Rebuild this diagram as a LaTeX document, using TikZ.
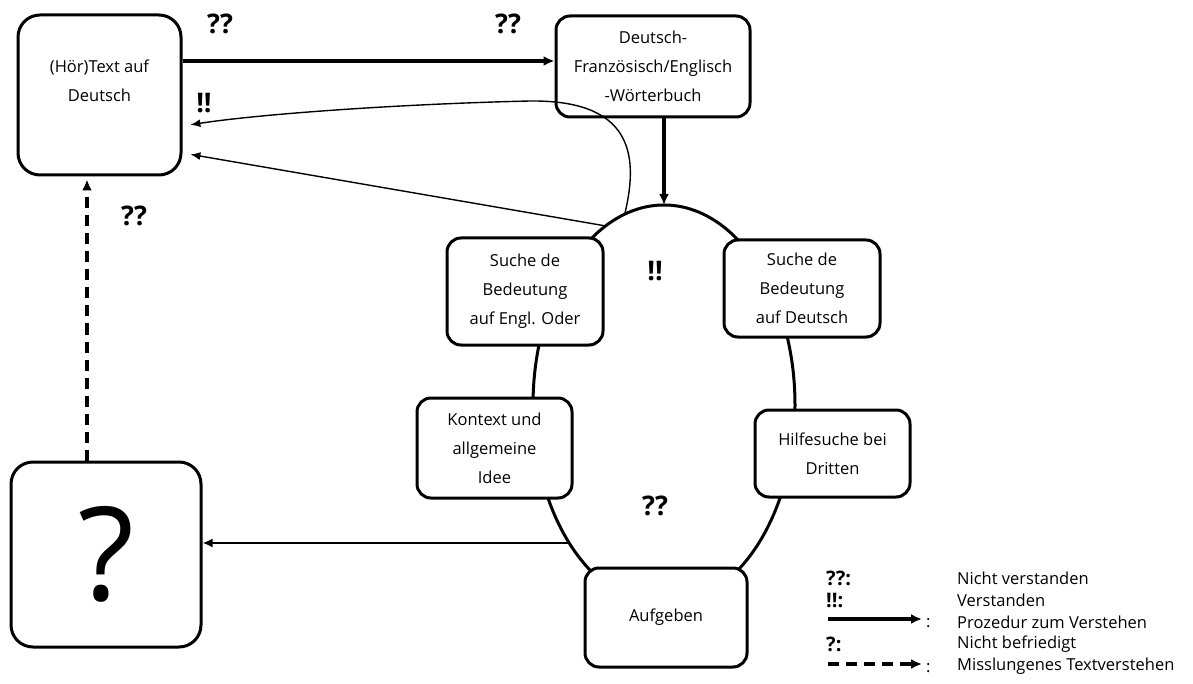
\documentclass[tikz,border=0pt]{standalone}
\usepackage{fontspec}
\setmainfont{Open Sans}
\usetikzlibrary{arrows.meta,calc}
\tikzset{
  box/.style={draw, line width=3pt, rounded corners=14pt, fill=white, inner sep=0pt, align=center,
    font=\fontsize{16.5}{29}\selectfont},
  bigbox/.style={box, rounded corners=22pt},
  lbl/.style={font=\fontsize{27}{27}\selectfont\bfseries, inner sep=0pt},
  leglbl/.style={font=\fontsize{20}{20}\selectfont\bfseries, inner sep=0pt, anchor=west},
  legtxt/.style={font=\fontsize{16.5}{20}\selectfont, inner sep=0pt, anchor=west},
  mainarr/.style={line width=3.2pt, -{Latex[length=11pt,width=10pt]}},
  medarr/.style={line width=2.6pt, -{Latex[length=10pt,width=9pt]}},
  thinarr/.style={line width=1.4pt, -{Latex[length=10pt,width=8pt]}},
  dasharr/.style={line width=3.4pt, dash pattern=on 11pt off 7pt, -{Latex[length=11pt,width=10pt]}},
  ring/.style={line width=3pt}
}
\begin{document}
\begin{tikzpicture}[x=1pt,y=-1pt]
\useasboundingbox (0,0) rectangle (1193,684);
% cycle
\draw[ring] (664,405) ellipse [x radius=131, y radius=200];
\coordinate (top) at (664,205);
\coordinate (lft) at (569,543);
\coordinate (c1) at (606,226);
\coordinate (c2) at (625,213);
% boxes
\node[bigbox, minimum width=163pt, minimum height=160pt] (A) at (99.5,95) {(Hör)Text auf\\Deutsch\\\phantom{X}};
\node[box, minimum width=194pt, minimum height=101pt] (B) at (653,66.5) {Deutsch-\\Französisch/Englisch\\-Wörterbuch};
\node[bigbox, minimum width=190pt, minimum height=185pt, font=\fontsize{130}{130}\selectfont] (Q) at (106,554.5) {?};
\node[box, minimum width=156pt, minimum height=107pt] (E) at (525,291.5) {Suche de\\Bedeutung\\auf Engl. Oder};
\node[box, minimum width=156pt, minimum height=97pt] (D) at (802,288.5) {Suche de\\Bedeutung\\auf Deutsch};
\node[box, minimum width=155pt, minimum height=100pt] (K) at (494.5,448) {Kontext und\\allgemeine\\Idee};
\node[box, minimum width=155pt, minimum height=87pt] (H) at (832.5,453.5) {Hilfesuche bei\\Dritten};
\node[box, minimum width=162pt, minimum height=99pt] (G) at (666,617.5) {Aufgeben};
% arrows
\coordinate (ab) at (0,61);
\draw[mainarr] (A.east |- ab) -- (B.west |- ab);
\draw[mainarr] (B.south -| top) -- (top);
\draw[thinarr, shorten >=8pt] (c1) -- ([yshift=-58pt]A.east);
\draw[thinarr, shorten >=8pt] (c2) .. controls (640,150) and (628,100) .. (530,101) .. controls (400,104) and (260,114) .. ([yshift=-31pt]A.east);
\draw[medarr] (lft) -- (Q.east |- lft);
\coordinate (dx) at (87,0);
\draw[dasharr, shorten >=3pt] (Q.north -| dx) -- (A.south -| dx);
% labels
\node[lbl] (q1) at (220,24) {??};
\node[lbl] (q2) at (508,24) {??};
\node[lbl] (x1) at (204,103) {!!};
\node[lbl] (q3) at (134,216) {??};
\node[lbl] (x2) at (655,271) {!!};
\node[lbl] (q4) at (655,506) {??};
% legend
\node[leglbl] (l1) at (826,578) {??:};
\node[legtxt] (t1) at (957,578) {Nicht verstanden};
\node[leglbl] (l2) at (826,600) {!!:};
\node[legtxt] (t2) at (957,600) {Verstanden};
\coordinate (s3) at (828,619);
\coordinate (e3) at (922,619);
\draw[mainarr] (s3) -- (e3);
\node[legtxt] (c3) at (926,623) {:};
\node[legtxt] (t3) at (957,622) {Prozedur zum Verstehen};
\node[leglbl] (l4) at (826,644) {?:};
\node[legtxt] (t4) at (957,644) {Nicht befriedigt};
\coordinate (s5) at (828,664);
\coordinate (e5) at (922,664);
\draw[dasharr] (s5) -- (e5);
\node[legtxt] (c5) at (926,668) {:};
\node[legtxt] (t5) at (957,666) {Misslungenes Textverstehen};
\end{tikzpicture}
\end{document}
